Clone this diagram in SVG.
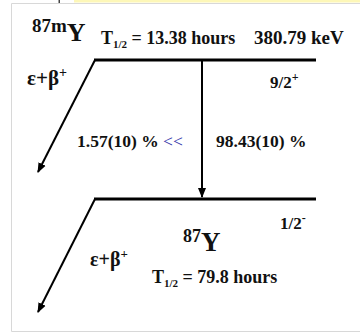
<svg xmlns="http://www.w3.org/2000/svg" width="360" height="333" viewBox="0 0 360 333">
<style>
text{font-family:"Liberation Serif","Times New Roman",serif;font-weight:bold;fill:#111}
.lv{stroke:#000;stroke-width:3;fill:none}
.ar{stroke:#000;stroke-width:2;fill:none}
</style>
<defs>
<marker id="ah2" viewBox="0 0 10 10" refX="9" refY="5" markerWidth="10" markerHeight="10" orient="auto" markerUnits="userSpaceOnUse">
<path d="M0,1 L10,5 L0,9 z" fill="#000"/>
</marker>
</defs>
<rect width="360" height="333" fill="#fff"/>
<rect x="74" y="0" width="286" height="2.5" fill="#fdf7b8"/>
<rect x="58.5" y="0" width="1.5" height="3" fill="#444"/>
<path d="M11.5,3.5 H360 M11.5,3.5 V331.5 H360" stroke="#d8d8d8" stroke-width="1" fill="none"/>
<g id="connectors">
<path class="ar" d="M95,60 L38,172" marker-end="url(#ah2)"/>
<path class="ar" d="M95,199 L38,312" marker-end="url(#ah2)"/>
<path class="ar" d="M202,60 L202,197" marker-end="url(#ah2)"/>
</g>
<g id="level-upper">
<line class="lv" x1="94" y1="60" x2="316" y2="60"/>
<text x="32" y="32" font-size="19">87m<tspan font-size="26" dy="9">Y</tspan></text>
<text x="101" y="44" font-size="18">T<tspan font-size="11" dy="4">1/2</tspan><tspan dy="-4"> = 13.38 hours</tspan></text>
<text x="254" y="44" font-size="19">380.79 keV</text>
<text x="270" y="88" font-size="17">9/2<tspan font-size="12" dy="-7">+</tspan></text>
<text x="27" y="85" font-size="21">ε+β<tspan font-size="14" dy="-8">+</tspan></text>
</g>
<g id="branch-labels">
<text x="77" y="147" font-size="17.5">1.57(10) % <tspan fill="#3333aa" font-weight="normal">&lt;&lt;</tspan></text>
<text x="216" y="147" font-size="17.5">98.43(10) %</text>
</g>
<g id="level-lower">
<line class="lv" x1="94" y1="199" x2="316" y2="199"/>
<text x="280" y="229" font-size="17">1/2<tspan font-size="12" dy="-7">-</tspan></text>
<text x="183" y="251" font-size="18"><tspan dy="-9">87</tspan><tspan font-size="27" dy="9">Y</tspan></text>
<text x="90" y="266" font-size="20">ε+β<tspan font-size="13" dy="-8">+</tspan></text>
<text x="152" y="283" font-size="18">T<tspan font-size="11" dy="4">1/2</tspan><tspan dy="-4"> = 79.8 hours</tspan></text>
</g>
</svg>
